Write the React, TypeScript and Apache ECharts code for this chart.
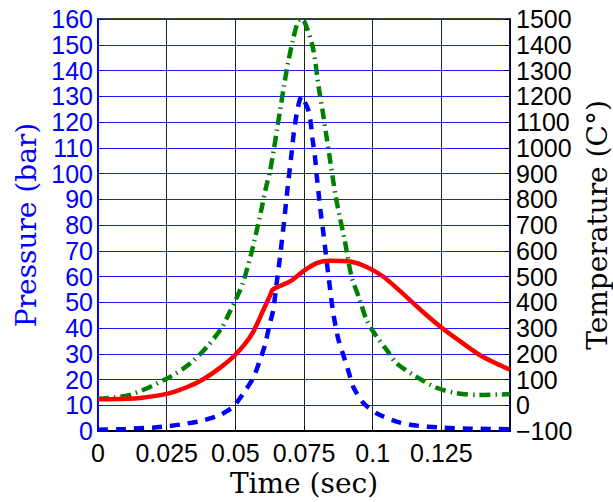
import React, { useEffect, useRef } from "react";
import * as echarts from "echarts";

// Pressure (bar), blue dashed, left axis
const pressureTime = [0, 0.01, 0.02, 0.025, 0.03, 0.038, 0.0444, 0.0492, 0.0529, 0.0565, 0.059, 0.0608, 0.0623, 0.0638, 0.065, 0.0662, 0.0677, 0.0691, 0.0706, 0.0713, 0.0723, 0.0733, 0.0741, 0.0752, 0.0765, 0.0774, 0.0781, 0.079, 0.0796, 0.0803, 0.081, 0.0818, 0.0826, 0.0832, 0.0844, 0.0856, 0.0874, 0.0893, 0.0911, 0.0929, 0.0965, 0.1014, 0.1087, 0.115, 0.125, 0.135, 0.15];
const pressure = [0.5, 0.8, 1.3, 1.8, 2.5, 4, 6.2, 9.4, 14.6, 20.5, 27.6, 33.4, 40.5, 47, 57, 67, 81, 95, 109, 116, 123, 128, 130, 128, 124.8, 120.2, 113.4, 106.4, 99.5, 92.6, 85.6, 79, 72, 66.5, 56, 46, 36, 29.5, 23.5, 17.2, 11, 6.9, 3.6, 2.2, 1.3, 0.9, 0.7];

// Gas temperature (°C), green dash-dot, right axis
const gasTime = [0, 0.0116, 0.0262, 0.0335, 0.0396, 0.045, 0.0474, 0.0505, 0.0529, 0.056, 0.0596, 0.0611, 0.0626, 0.064, 0.0652, 0.0665, 0.0677, 0.0692, 0.071, 0.0728, 0.074, 0.0753, 0.0782, 0.0805, 0.0818, 0.083, 0.0842, 0.0854, 0.0866, 0.0881, 0.0898, 0.0923, 0.0953, 0.0978, 0.1014, 0.1051, 0.1087, 0.116, 0.1233, 0.1305, 0.139, 0.147, 0.15];
const gasTemp = [25, 40, 110, 162, 226, 300, 350, 418, 480, 597, 766, 843, 908, 992, 1073, 1158, 1240, 1330, 1420, 1490, 1500, 1486, 1390, 1225, 1141, 1057, 973, 888, 808, 727, 642, 500, 410, 331, 267, 215, 163, 110, 68, 47, 40, 42, 43];

// Wall temperature (°C), red solid, right axis
const wallTime = [0, 0.01, 0.0153, 0.025, 0.0323, 0.0382, 0.0444, 0.0499, 0.0535, 0.0565, 0.0602, 0.0628, 0.0635, 0.0662, 0.0699, 0.0747, 0.0796, 0.0844, 0.0917, 0.0978, 0.1038, 0.1099, 0.1175, 0.125, 0.132, 0.139, 0.145, 0.15];
const wallTemp = [23, 25, 28, 44, 70, 100, 145, 195, 238, 285, 370, 430, 448, 463, 481, 520, 552, 561, 558, 537, 500, 444, 370, 302, 247, 195, 162, 138];

const timeTicks = [0, 0.025, 0.05, 0.075, 0.1, 0.125];

const pair = (t: number[], v: number[]) => t.map((x, i) => [x, v[i]]);

export default function App() {
  const ref = useRef<HTMLDivElement>(null);
  useEffect(() => {
    document.body.style.margin = "0";
    if (!ref.current) return;
    const chart = echarts.init(ref.current, null, { renderer: "svg" });
    const labelFont = "Liberation Sans";
    const nameFont = "DejaVu Serif";
    chart.setOption({
      animation: false,
      backgroundColor: "#ffffff",
      grid: {
        left: 98,
        right: 103,
        top: 19,
        bottom: 71,
        show: true,
        borderColor: "#000",
        borderWidth: 1.5,
        containLabel: false,
        outerBoundsMode: "none",
      },
      xAxis: {
        type: "value",
        min: 0,
        max: 0.15,
        interval: 0.025,
        name: "Time (sec)",
        nameLocation: "middle",
        nameGap: 35,
        nameTextStyle: { fontFamily: nameFont, fontSize: 28, color: "#000" },
        axisLine: { show: true, lineStyle: { color: "#000", width: 2 } },
        axisTick: { show: true, inside: true, length: 5, lineStyle: { color: "#000" } },
        axisLabel: {
          margin: 9,
          fontFamily: labelFont,
          fontSize: 25,
          color: "#000",
          showMaxLabel: false,
          formatter: (v: number) => {
            const r = Math.round(v * 1000) / 1000;
            return timeTicks.some((t) => Math.abs(t - r) < 1e-6) ? String(r) : "";
          },
        },
        splitLine: { show: true, lineStyle: { color: "#222", width: 1 } },
      },
      yAxis: [
        {
          type: "value",
          position: "left",
          min: 0,
          max: 160,
          interval: 10,
          name: "Pressure (bar)",
          nameLocation: "middle",
          nameRotate: 90,
          nameGap: 57,
          nameTextStyle: { fontFamily: nameFont, fontSize: 28, color: "#0000ff" },
          axisLine: { show: true, lineStyle: { color: "#0000ff", width: 2 } },
          axisTick: { show: true, inside: true, length: 5, lineStyle: { color: "#0000ff" } },
          axisLabel: { margin: 5, fontFamily: labelFont, fontSize: 25, color: "#0000ff" },
          splitLine: { show: true, lineStyle: { color: "#1a1aff", width: 1 } },
        },
        {
          type: "value",
          position: "right",
          min: -100,
          max: 1500,
          interval: 100,
          name: "Temperature (C°)",
          nameLocation: "middle",
          nameRotate: 90,
          nameGap: 70,
          nameTextStyle: { fontFamily: nameFont, fontSize: 28, color: "#000" },
          axisLine: { show: true, lineStyle: { color: "#000033", width: 1.5 } },
          axisTick: { show: true, inside: true, length: 5, lineStyle: { color: "#000" } },
          axisLabel: {
            margin: 6,
            fontFamily: labelFont,
            fontSize: 25,
            color: "#000",
            formatter: (v: number) => (v < 0 ? "\u2212" + Math.abs(v) : String(v)),
          },
          splitLine: { show: false },
        },
      ],
      series: [
        {
          name: "Pressure",
          type: "line",
          yAxisIndex: 0,
          data: pair(pressureTime, pressure),
          showSymbol: false,
          smooth: 0.2,
          lineStyle: { color: "#0000ff", width: 4.5, type: [10, 8] },
        },
        {
          name: "Gas temperature",
          type: "line",
          yAxisIndex: 1,
          data: pair(gasTime, gasTemp),
          showSymbol: false,
          smooth: 0.3,
          lineStyle: { color: "#008000", width: 4.5, type: [11, 5, 1.5, 5] },
        },
        {
          name: "Wall temperature",
          type: "line",
          yAxisIndex: 1,
          data: pair(wallTime, wallTemp),
          showSymbol: false,
          smooth: 0.3,
          lineStyle: { color: "#ff0000", width: 4.5 },
        },
      ],
    });
    return () => chart.dispose();
  }, []);
  return <div ref={ref} style={{ width: 613, height: 502 }} />;
}
